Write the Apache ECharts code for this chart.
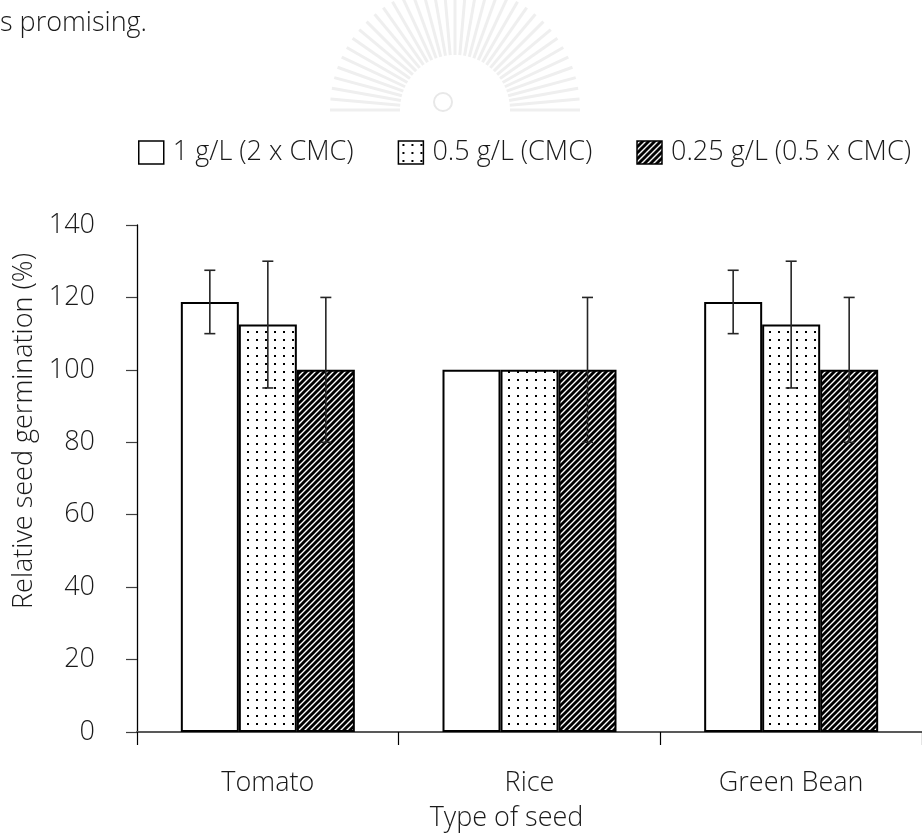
<!DOCTYPE html>
<html>
<head>
<meta charset="utf-8">
<script src="https://cdn.jsdelivr.net/npm/echarts@6/dist/echarts.min.js"></script>
<style>
html,body{margin:0;padding:0;background:#fff;}
#chart{width:922px;height:837px;}
</style>
</head>
<body>
<div id="chart"></div>
<script>
// ---- data ----
const categories = ['Tomato', 'Rice', 'Green Bean'];
const seriesNames = ['1 g/L (2 x CMC)', '0.5 g/L (CMC)', '0.25 g/L (0.5 x CMC)'];
const values1 = [118.75, 100, 118.75];
const values2 = [112.5, 100, 112.5];
const values3 = [100, 100, 100];
const errors1 = [8.75, 0, 8.75];
const errors2 = [17.5, 0, 17.5];
const errors3 = [20, 20, 20];
const yTicks = [0, 20, 40, 60, 80, 100, 120, 140];
const xTitle = 'Type of seed';
const yTitle = 'Relative seed germination (%)';
const topText = 's promising.';

const FONT = '"Open Sans", "Noto Sans", sans-serif';
const FW = 300;
const FS = 27;
const TXT = '#1a1a1a';
const BAR_W = 58;

function dotPattern() {
  const c = document.createElement('canvas');
  c.width = 9; c.height = 8;
  const ctx = c.getContext('2d');
  ctx.fillStyle = '#fff'; ctx.fillRect(0, 0, 9, 8);
  ctx.fillStyle = '#000'; ctx.fillRect(4, 3, 2, 2);
  return c;
}
function hatchPattern() {
  const c = document.createElement('canvas');
  c.width = 6; c.height = 6;
  const ctx = c.getContext('2d');
  ctx.fillStyle = '#fff'; ctx.fillRect(0, 0, 6, 6);
  ctx.strokeStyle = '#000'; ctx.lineWidth = 2.9;
  ctx.beginPath();
  ctx.moveTo(-3, 3); ctx.lineTo(3, -3);
  ctx.moveTo(0, 6); ctx.lineTo(6, 0);
  ctx.moveTo(3, 9); ctx.lineTo(9, 3);
  ctx.stroke();
  return c;
}

const fills = ['#ffffff', {image: dotPattern(), repeat: 'repeat'}, {image: hatchPattern(), repeat: 'repeat'}];
const valueSets = [values1, values2, values3];
const errorSets = [errors1, errors2, errors3];

const barSeries = seriesNames.map((n, i) => ({
  name: n,
  type: 'bar',
  data: valueSets[i],
  barWidth: BAR_W,
  barGap: '0%',
  itemStyle: {color: fills[i], borderColor: '#000', borderWidth: 2},
  emphasis: {disabled: true},
  z: 2
}));

const errData = [];
categories.forEach((c, ci) => {
  for (let s = 0; s < 3; s++) {
    errData.push([ci, valueSets[s][ci], errorSets[s][ci], s - 1]);
  }
});

const errSeries = {
  type: 'custom',
  name: 'err',
  data: errData,
  z: 5,
  renderItem: function (params, api) {
    const ci = api.value(0), v = api.value(1), e = api.value(2), off = api.value(3);
    if (!(e > 0)) return {type: 'group', children: []};
    const t = api.coord([ci, v + e]);
    const b = api.coord([ci, v - e]);
    const x = t[0] + off * BAR_W;
    const st = {stroke: '#262626', lineWidth: 1.6};
    return {
      type: 'group',
      children: [
        {type: 'line', shape: {x1: x, y1: t[1], x2: x, y2: b[1]}, style: st},
        {type: 'line', shape: {x1: x - 5.5, y1: t[1], x2: x + 5.5, y2: t[1]}, style: st},
        {type: 'line', shape: {x1: x - 5.5, y1: b[1], x2: x + 5.5, y2: b[1]}, style: st}
      ]
    };
  }
};

// faint watermark rays
const wm = [];
const cx = 455, cy = 110;
for (let k = 0; k <= 36; k++) {
  const a = Math.PI * k / 36;
  wm.push({
    type: 'line',
    shape: {x1: cx - Math.cos(a) * 55, y1: cy - Math.sin(a) * 55, x2: cx - Math.cos(a) * 125, y2: cy - Math.sin(a) * 125},
    style: {stroke: '#efefef', lineWidth: 3},
    silent: true, z: -1
  });
}
wm.push({type: 'circle', shape: {cx: cx - 12, cy: cy - 8, r: 9}, style: {stroke: '#e8e8e8', fill: 'none', lineWidth: 2}, silent: true, z: -1});

const chart = echarts.init(document.getElementById('chart'), null, {renderer: 'canvas'});
chart.setOption({
  animation: false,
  backgroundColor: '#fff',
  textStyle: {fontFamily: FONT, fontWeight: FW},
  graphic: wm.concat([{
    type: 'text', left: 0, top: 10,
    style: {text: topText, font: FW + ' ' + FS + 'px ' + FONT, fill: TXT}
  }]),
  legend: {
    data: seriesNames,
    left: 138, top: 139,
    padding: 0,
    itemWidth: 25, itemHeight: 23, itemGap: 44,
    icon: 'rect',
    textStyle: {fontSize: FS, fontWeight: FW, color: TXT, fontFamily: FONT, padding: [0, 0, 0, 4]},
    itemStyle: {borderColor: '#000', borderWidth: 1.5}
  },
  grid: {left: 137, top: 225, width: 786, height: 507, containLabel: false},
  xAxis: {
    type: 'category',
    data: categories,
    name: xTitle,
    nameLocation: 'middle',
    nameGap: 73,
    nameTextStyle: {fontSize: FS, fontWeight: FW, color: TXT, fontFamily: FONT, padding: [0, 46, 0, 0]},
    axisLine: {lineStyle: {color: '#595959', width: 2}},
    axisTick: {show: true, length: 13, inside: false, alignWithLabel: false, lineStyle: {color: '#000', width: 1.2}},
    axisLabel: {fontSize: FS, fontWeight: FW, color: TXT, margin: 38, fontFamily: FONT},
    splitLine: {show: false}
  },
  yAxis: {
    type: 'value',
    min: yTicks[0], max: yTicks[yTicks.length - 1], interval: yTicks[1] - yTicks[0],
    name: yTitle,
    nameLocation: 'middle',
    nameGap: 93,
    nameTextStyle: {fontSize: FS, fontWeight: FW, color: TXT, fontFamily: FONT, padding: [0, 0, 0, 95]},
    axisLine: {show: true, lineStyle: {color: '#000', width: 1.3}},
    axisTick: {show: true, length: 11, inside: false, lineStyle: {color: '#404040', width: 1.2}},
    axisLabel: {fontSize: FS, fontWeight: FW, color: TXT, margin: 42, fontFamily: FONT},
    splitLine: {show: false}
  },
  series: barSeries.concat([errSeries])
});
</script>
</body>
</html>
